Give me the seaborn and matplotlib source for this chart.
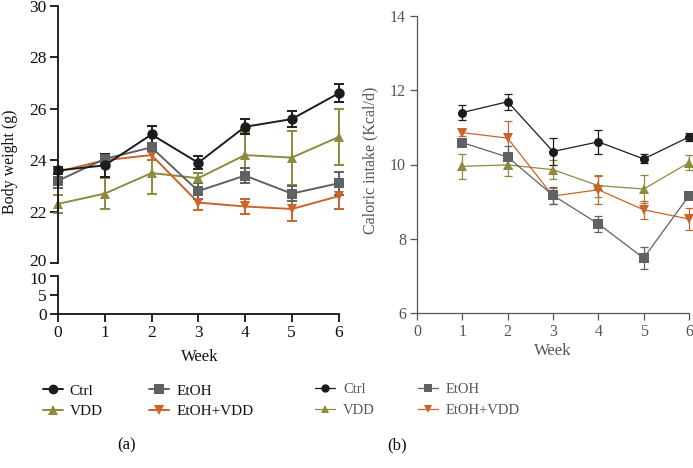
import matplotlib
matplotlib.use("Agg")
import matplotlib.pyplot as plt
import matplotlib.transforms as mtransforms
from matplotlib.lines import Line2D
import seaborn as sns
import pandas as pd

# ---- data ----
groups = ["Ctrl", "VDD", "EtOH", "EtOH+VDD"]

bw_weeks = [0, 1, 2, 3, 4, 5, 6]
bw_mean = {
    "Ctrl":     [23.6, 23.8, 25.0, 23.9, 25.3, 25.6, 26.6],
    "EtOH":     [23.2, 24.05, 24.5, 22.8, 23.4, 22.7, 23.1],
    "VDD":      [22.3, 22.7, 23.5, 23.3, 24.2, 24.1, 24.9],
    "EtOH+VDD": [23.55, 24.0, 24.2, 22.35, 22.2, 22.1, 22.6],
}
bw_err = {
    "Ctrl":     [0.12, 0.45, 0.32, 0.25, 0.3, 0.3, 0.35],
    "EtOH":     [0.3, 0.2, 0.15, 0.3, 0.3, 0.3, 0.45],
    "VDD":      [0.35, 0.6, 0.82, 0.2, 0.9, 1.05, 1.1],
    "EtOH+VDD": [0.1, 0.2, 0.2, 0.3, 0.3, 0.45, 0.5],
}

ci_weeks = [1, 2, 3, 4, 5, 6]
ci_mean = {
    "Ctrl":     [11.4, 11.69, 10.35, 10.61, 10.15, 10.74],
    "EtOH":     [10.59, 10.2, 9.17, 8.4, 7.48, 9.16],
    "VDD":      [9.95, 9.99, 9.86, 9.43, 9.34, 10.05],
    "EtOH+VDD": [10.86, 10.71, 9.15, 9.32, 8.78, 8.53],
}
ci_err = {
    "Ctrl":     [0.2, 0.22, 0.37, 0.32, 0.12, 0.12],
    "EtOH":     [0.08, 0.3, 0.23, 0.22, 0.3, 0.05],
    "VDD":      [0.34, 0.3, 0.25, 0.3, 0.38, 0.2],
    "EtOH+VDD": [0.08, 0.46, 0.22, 0.38, 0.25, 0.3],
}

colors = {"Ctrl": "#1c1c1c", "EtOH": "#5e6263", "VDD": "#8e8a3e", "EtOH+VDD": "#c8642c"}
markers = {"Ctrl": "o", "EtOH": "s", "VDD": "^", "EtOH+VDD": "v"}
draw_order = ["VDD", "EtOH+VDD", "EtOH", "Ctrl"]


def to_long(weeks, means):
    rows = []
    for g in groups:
        for w, v in zip(weeks, means[g]):
            rows.append({"week": w, "value": v, "group": g})
    return pd.DataFrame(rows)


sns.set_style("ticks")
plt.rcParams["font.family"] = ["Liberation Serif", "DejaVu Serif"]

fig = plt.figure(figsize=(6.93, 4.68), dpi=100)
W, H = 693, 468


def box(x0, y0, x1, y1):
    return [x0 / W, 1 - y1 / H, (x1 - x0) / W, (y1 - y0) / H]


ax_top = fig.add_axes(box(58, 6, 338.5, 263))
ax_bot = fig.add_axes(box(58, 276, 338.5, 314))
ax_r = fig.add_axes(box(417, 16, 689, 313))


def draw(ax, weeks, means, errs, lw, ms, cap, clip=False):
    df = to_long(weeks, means)
    sns.lineplot(data=df, x="week", y="value", hue="group", style="group",
                 hue_order=draw_order, style_order=draw_order,
                 palette=colors, markers=markers, dashes=False,
                 linewidth=lw, markersize=ms, markeredgewidth=0,
                 legend=False, ax=ax, clip_on=clip)
    for g in draw_order:
        ax.errorbar(weeks, means[g], yerr=errs[g], fmt="none", ecolor=colors[g],
                    elinewidth=lw, capsize=cap, capthick=lw, clip_on=clip, zorder=1)


# left panel (broken axis)
draw(ax_top, bw_weeks, bw_mean, bw_err, 1.4, 7.5, 3.8)
ax_top.set_xlim(0, 6)
ax_top.set_ylim(20, 30)
ax_top.set_yticks([20, 22, 24, 26, 28, 30])
ax_top.set_xticks([])
ax_top.set_xlabel("")
ax_top.set_ylabel("")
ax_top.spines[["top", "right", "bottom"]].set_visible(False)

ax_bot.set_xlim(0, 6)
ax_bot.set_ylim(0, 10)
ax_bot.set_yticks([0, 5, 10])
ax_bot.set_xticks(range(7))
ax_bot.spines[["top", "right"]].set_visible(False)

for ax in (ax_top, ax_bot):
    ax.patch.set_alpha(0)
    for s in ("left", "bottom"):
        ax.spines[s].set_linewidth(1.3)
        ax.spines[s].set_color("#111111")
    ax.tick_params(width=1.3, length=6, labelsize=12.5, colors="#111111", pad=2)

# nudge the two labels at the axis break apart a little
fig.canvas.draw()
ax_top.get_yticklabels()[0].set_transform(
    ax_top.get_yticklabels()[0].get_transform()
    + mtransforms.ScaledTranslation(0, 2.5 / 100, fig.dpi_scale_trans))
ax_bot.get_yticklabels()[-1].set_transform(
    ax_bot.get_yticklabels()[-1].get_transform()
    + mtransforms.ScaledTranslation(0, -2.5 / 100, fig.dpi_scale_trans))

fig.text(10 / W, 1 - 162 / H, "Body weight (g)", rotation=90, ha="center", va="center",
         fontsize=11.5, color="#111111")
fig.text(200 / W, 1 - 357 / H, "Week", ha="center", va="center", fontsize=12, color="#111111")

# right panel
draw(ax_r, ci_weeks, ci_mean, ci_err, 0.9, 6.5, 3.0)
ax_r.set_xlim(0, 6)
ax_r.set_ylim(6, 14)
ax_r.set_xticks(range(7))
ax_r.set_yticks([6, 8, 10, 12, 14])
ax_r.set_xlabel("")
ax_r.set_ylabel("")
ax_r.spines[["top", "right"]].set_visible(False)
for s in ("left", "bottom"):
    ax_r.spines[s].set_linewidth(0.9)
    ax_r.spines[s].set_color("#555555")
ax_r.tick_params(width=0.9, length=5, labelsize=11.5, colors="#555555", labelcolor="#555555", pad=3)
ax_r.patch.set_alpha(0)

fig.text(370 / W, 1 - 160 / H, "Caloric intake (Kcal/d)", rotation=90, ha="center", va="center",
         fontsize=11.5, color="#555555")
fig.text(553 / W, 1 - 351 / H, "Week", ha="center", va="center", fontsize=12, color="#555555")

# legends
legend_order = ["Ctrl", "VDD", "EtOH", "EtOH+VDD"]


def handles(lw, ms):
    return [Line2D([], [], color=colors[g], marker=markers[g], lw=lw, ms=ms, mew=0)
            for g in legend_order]


fig.legend(handles(1.4, 7), legend_order, ncol=2, loc="upper left",
           bbox_to_anchor=(43 / W, 1 - 384 / H), frameon=False, fontsize=11,
           borderpad=0, borderaxespad=0,
           handlelength=1.3, handletextpad=0.45, columnspacing=3.05, labelspacing=0.46,
           labelcolor="#111111")
fig.legend(handles(0.9, 6), legend_order, ncol=2, loc="upper left",
           bbox_to_anchor=(315 / W, 1 - 382.5 / H), frameon=False, fontsize=10.5,
           borderpad=0, borderaxespad=0,
           handlelength=1.37, handletextpad=0.55, columnspacing=2.95, labelspacing=0.53,
           labelcolor="#555555")

fig.text(127 / W, 1 - 445 / H, "(a)", ha="center", va="center", fontsize=12, color="#111111")
fig.text(397 / W, 1 - 445 / H, "(b)", ha="center", va="center", fontsize=12, color="#111111")

fig.savefig("out.png", dpi=100)
